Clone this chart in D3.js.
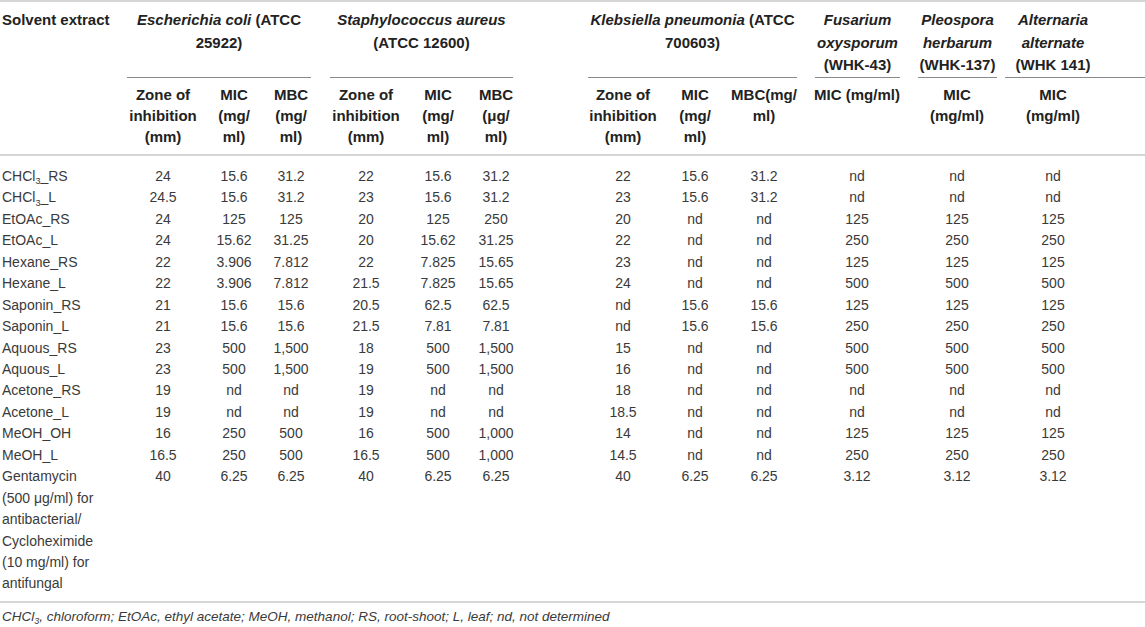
<!doctype html>
<meta charset="utf-8">

<style>
 body { margin: 0; background: #fff; }
 svg text { font-family: "Liberation Sans", Arial, sans-serif; }
 .head text { font-weight: bold; font-size: 15px; fill: #222; }
 .cells text { font-size: 14px; fill: #3a3a3a; }
 .note text { font-style: italic; font-size: 13.5px; fill: #3a3a3a; }
</style>

<svg width="1145" height="627"></svg>

<script src="https://d3js.org/d3.v7.min.js"></script>
<script>
 // Data
 var solvents = ["CHCl3_RS", "CHCl3_L", "EtOAc_RS", "EtOAc_L", "Hexane_RS", "Hexane_L",
   "Saponin_RS", "Saponin_L", "Aquous_RS", "Aquous_L", "Acetone_RS", "Acetone_L",
   "MeOH_OH", "MeOH_L", "Gentamycin"];
 var controlNote = ["(500 μg/ml) for", "antibacterial/", "Cycloheximide", "(10 mg/ml) for", "antifungal"];

 var ecoliZone = ["24", "24.5", "24", "24", "22", "22", "21", "21", "23", "23", "19", "19", "16", "16.5", "40"];
 var ecoliMIC  = ["15.6", "15.6", "125", "15.62", "3.906", "3.906", "15.6", "15.6", "500", "500", "nd", "nd", "250", "250", "6.25"];
 var ecoliMBC  = ["31.2", "31.2", "125", "31.25", "7.812", "7.812", "15.6", "15.6", "1,500", "1,500", "nd", "nd", "500", "500", "6.25"];

 var aureusZone = ["22", "23", "20", "20", "22", "21.5", "20.5", "21.5", "18", "19", "19", "19", "16", "16.5", "40"];
 var aureusMIC  = ["15.6", "15.6", "125", "15.62", "7.825", "7.825", "62.5", "7.81", "500", "500", "nd", "nd", "500", "500", "6.25"];
 var aureusMBC  = ["31.2", "31.2", "250", "31.25", "15.65", "15.65", "62.5", "7.81", "1,500", "1,500", "nd", "nd", "1,000", "1,000", "6.25"];

 var klebZone = ["22", "23", "20", "22", "23", "24", "nd", "nd", "15", "16", "18", "18.5", "14", "14.5", "40"];
 var klebMIC  = ["15.6", "15.6", "nd", "nd", "nd", "nd", "15.6", "15.6", "nd", "nd", "nd", "nd", "nd", "nd", "6.25"];
 var klebMBC  = ["31.2", "31.2", "nd", "nd", "nd", "nd", "15.6", "15.6", "nd", "nd", "nd", "nd", "nd", "nd", "6.25"];

 var fusariumMIC   = ["nd", "nd", "125", "250", "125", "500", "125", "250", "500", "500", "nd", "nd", "125", "250", "3.12"];
 var pleosporaMIC  = ["nd", "nd", "125", "250", "125", "500", "125", "250", "500", "500", "nd", "nd", "125", "250", "3.12"];
 var alternariaMIC = ["nd", "nd", "125", "250", "125", "500", "125", "250", "500", "500", "nd", "nd", "125", "250", "3.12"];

 // "|" splits italic species name from the plain rest of the line
 var groups = [
   {key: "ecoli",  lines: ["Escherichia coli| (ATCC", "25922)"]},
   {key: "aureus", lines: ["Staphylococcus aureus|", "(ATCC 12600)"]},
   {key: "kleb",   lines: ["Klebsiella pneumonia| (ATCC", "700603)"]},
   {key: "fus",    lines: ["Fusarium|", "oxysporum|", "(WHK-43)"]},
   {key: "pleo",   lines: ["Pleospora|", "herbarum|", "(WHK-137)"]},
   {key: "alt",    lines: ["Alternaria|", "alternate|", "(WHK 141)"]}
 ];

 var columns = [
   {key: "ez", head: ["Zone of", "inhibition", "(mm)"], values: ecoliZone},
   {key: "ei", head: ["MIC", "(mg/", "ml)"], values: ecoliMIC},
   {key: "eb", head: ["MBC", "(mg/", "ml)"], values: ecoliMBC},
   {key: "sz", head: ["Zone of", "inhibition", "(mm)"], values: aureusZone},
   {key: "si", head: ["MIC", "(mg/", "ml)"], values: aureusMIC},
   {key: "sb", head: ["MBC", "(μg/", "ml)"], values: aureusMBC},
   {key: "kz", head: ["Zone of", "inhibition", "(mm)"], values: klebZone},
   {key: "ki", head: ["MIC", "(mg/", "ml)"], values: klebMIC},
   {key: "kb", head: ["MBC(mg/", "ml)"], values: klebMBC},
   {key: "fi", head: ["MIC (mg/ml)"], values: fusariumMIC},
   {key: "pi", head: ["MIC", "(mg/ml)"], values: pleosporaMIC},
   {key: "ai", head: ["MIC", "(mg/ml)"], values: alternariaMIC}
 ];

 // Layout
 var svg = d3.select("svg");
 var width = +svg.attr("width");

 var colX = d3.scaleOrdinal()
   .domain(columns.map(function(c) { return c.key; }))
   .range([163, 234, 291, 366, 438, 496, 623, 695, 764, 857, 957, 1053]);
 var groupSpan = d3.scaleOrdinal()
   .domain(groups.map(function(g) { return g.key; }))
   .range([[127, 311], [330, 513], [588, 797], [815, 900], [918, 997], [1005, 1145]]);
 var headY = d3.scaleLinear().domain([0, 1]).range([20, 42.5]);
 var subY = d3.scaleLinear().domain([0, 1]).range([95, 116]);
 var rowY = d3.scaleLinear().domain([0, 1]).range([176, 197.45]);

 // rules
 var rules = svg.append("g");
 [1, 155, 602].forEach(function(y) {
   rules.append("line").attr("x1", 0).attr("x2", width).attr("y1", y).attr("y2", y)
     .attr("stroke", "#d6d6d6").attr("stroke-width", 2);
 });
 rules.selectAll("line.grp").data(groups).join("line").attr("class", "grp")
   .attr("x1", function(d) { return groupSpan(d.key)[0]; })
   .attr("x2", function(d) { return groupSpan(d.key)[1]; })
   .attr("y1", 77.5).attr("y2", 77.5)
   .attr("stroke", "#8a8a8a").attr("stroke-width", 1.2);

 // header
 var head = svg.append("g").attr("class", "head");
 head.append("text").attr("x", 2).attr("y", headY(0)).attr("dy", "0.35em").text("Solvent extract");

 groups.forEach(function(g) {
   var span = groupSpan(g.key);
   var cx = g.key === "alt" ? colX("ai") : (span[0] + span[1]) / 2;
   g.lines.forEach(function(line, i) {
     var parts = line.split("|");
     var t = head.append("text").attr("x", cx).attr("y", headY(i)).attr("dy", "0.35em")
       .attr("text-anchor", "middle");
     if (parts.length > 1) {
       t.append("tspan").style("font-style", "italic").text(parts[0]);
       if (parts[1]) t.append("tspan").text(parts[1]);
     } else {
       t.text(line);
     }
   });
 });

 columns.forEach(function(c) {
   head.selectAll(null).data(c.head).join("text")
     .attr("x", colX(c.key))
     .attr("y", function(d, i) { return subY(i); })
     .attr("dy", "0.35em")
     .attr("text-anchor", "middle")
     .text(function(d) { return d; });
 });

 // body
 var body = svg.append("g").attr("class", "cells");

 function chem(sel, name) {
   var m = name.match(/^CHCl3(.*)$/);
   if (m) {
     sel.append("tspan").text("CHCl");
     sel.append("tspan").attr("font-size", "9px").attr("dy", "3.5").text("3");
     sel.append("tspan").attr("dy", "-3.5").text(m[1]);
   } else {
     sel.text(name);
   }
 }

 body.selectAll("text.name").data(solvents).join("text").attr("class", "name")
   .attr("x", 2)
   .attr("y", function(d, i) { return rowY(i); })
   .attr("dy", "0.35em")
   .each(function(d) { chem(d3.select(this), d); });

 body.selectAll("text.note").data(controlNote).join("text").attr("class", "note")
   .attr("x", 2)
   .attr("y", function(d, i) { return rowY(solvents.length + i); })
   .attr("dy", "0.35em")
   .text(function(d) { return d; });

 columns.forEach(function(c) {
   body.selectAll("text." + c.key).data(c.values).join("text").attr("class", c.key)
     .attr("x", colX(c.key))
     .attr("y", function(d, i) { return rowY(i); })
     .attr("dy", "0.35em")
     .attr("text-anchor", "middle")
     .text(function(d) { return d; });
 });

 // footnote
 var note = svg.append("g").attr("class", "note");
 var ft = note.append("text").attr("x", 2).attr("y", 616.5).attr("dy", "0.35em");
 ft.append("tspan").text("CHCl");
 ft.append("tspan").attr("font-size", "9px").attr("dy", "3").text("3");
 ft.append("tspan").attr("dy", "-3")
   .text(", chloroform; EtOAc, ethyl acetate; MeOH, methanol; RS, root-shoot; L, leaf; nd, not determined");
</script>
